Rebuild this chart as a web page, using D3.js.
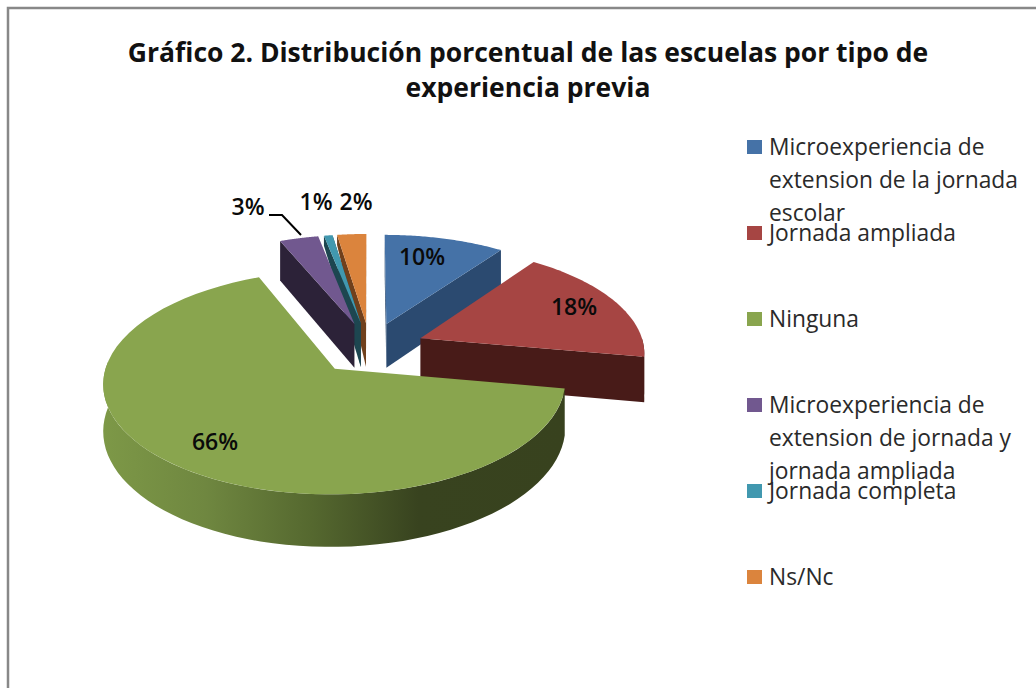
<!DOCTYPE html>
<html><head><meta charset="utf-8">
<script src="https://cdn.jsdelivr.net/npm/d3@7/dist/d3.min.js"></script>
<style>html,body{margin:0;padding:0;background:#fff}svg{display:block}text{font-family:"Open Sans",sans-serif}</style>
</head><body><svg id="c" width="1036" height="688"></svg>
<script>
const titleLines = ["Gráfico 2. Distribución porcentual de las escuelas por tipo de","experiencia previa"];
const categories = ["Microexperiencia de extension de la jornada escolar","Jornada ampliada","Ninguna","Microexperiencia de extension de jornada y jornada ampliada","Jornada completa","Ns/Nc"];
const legendLines = [["Microexperiencia de","extension de la jornada","escolar"],["Jornada ampliada"],["Ninguna"],["Microexperiencia de","extension de jornada y","jornada ampliada"],["Jornada completa"],["Ns/Nc"]];
const values = [9.9,17.9,65.9,3.2,0.7,2.4];
const topColors = ["#4572a7","#a64543","#89a54e","#71588f","#4198af","#db843d"];
const sideColors = ["#2b4a70","#481b18","#38421e","#2c2238","#1d4650","#70401c"];
const labelAnchors = [[422,257],[574,307],[215,442],[248,207],[316,202],[356,202]];

const W=1036,H=688, cx=370, cy=348, R=224, explode=55, tilt=0.47, persp=0.12, depth=45, sliverDepth=10;
const svg=d3.select("#c");
const defs=svg.append("defs");
const grad=defs.append("linearGradient").attr("id","rim").attr("gradientUnits","userSpaceOnUse")
  .attr("x1",104).attr("x2",566).attr("y1",0).attr("y2",0);
[[0,"#7d9847"],[0.22,"#6f8740"],[0.45,"#55682f"],[0.68,"#38431f"],[1,"#38421e"]].forEach(s=>grad.append("stop").attr("offset",s[0]).attr("stop-color",s[1]));

// frame
svg.append("path").attr("d",`M8,688V8H1036`).attr("fill","none").attr("stroke","#888").attr("stroke-width",2.5);

// projection of disc-plane coordinates
function proj(X,Y,z){const p=1/(1+persp*Y/R);return [cx+X*p, cy-Y*tilt*p+(z?depth*p:0)];}
const line=d3.line();
const arcs=d3.pie().sort(null).startAngle(0).endAngle(2*Math.PI)(values);
const slices=arcs.map((a,i)=>{
  const mid=(a.startAngle+a.endAngle)/2;
  return {i,a0:a.startAngle,a1:a.endAngle,ox:explode*Math.sin(mid),oy:explode*Math.cos(mid)};
});
const pt=(s,t,r,z)=>proj(s.ox+r*Math.sin(t),s.oy+r*Math.cos(t),z);
const arcPts=(s,t0,t1,z)=>d3.range(0,61).map(k=>pt(s,t0+(t1-t0)*k/60,R,z));
const order=[5,4,3,0,1,2];
order.forEach(i=>{
  const s=slices[i], g=svg.append("g");
  // radial cut faces
  [s.a0,s.a1].forEach((t,j)=>{
    const n=t+(j?Math.PI/2:-Math.PI/2);
    const thin=i===4||i===5;
    if(Math.cos(n)>0.05 && !thin) return;
    const far=pt(s,t,R,false);
    const farLow=thin?[far[0],far[1]+sliverDepth]:pt(s,t,R,true);
    g.append("path").attr("fill",sideColors[i]).attr("d",line([pt(s,t,0,false),far,farLow,pt(s,t,0,true)])+"Z");
  });
  // outer rim
  const t0=Math.max(s.a0,Math.PI/2), t1=Math.min(s.a1,Math.PI*1.52);
  if(t1>t0){
    const rim=arcPts(s,t0,t1,false).concat(arcPts(s,t1,t0,true));
    g.append("path").attr("fill",i===2?"url(#rim)":sideColors[i]).attr("d",line(rim)+"Z");
  }
  // top
  g.append("path").attr("fill",topColors[i]).attr("d",line([pt(s,s.a0,0,false),...arcPts(s,s.a0,s.a1,false)])+"Z");
});

// title
svg.selectAll("text.t").data(titleLines).join("text").attr("class","t")
  .attr("x",528).attr("y",(d,i)=>62+i*35).attr("text-anchor","middle")
  .attr("font-size",26.5).attr("font-weight",700).attr("fill","#111").text(d=>d);

// data labels
const pct=d3.format(".0f");
svg.selectAll("text.l").data(values).join("text").attr("class","l")
  .attr("x",(d,i)=>labelAnchors[i][0]).attr("y",(d,i)=>labelAnchors[i][1]+8)
  .attr("text-anchor","middle").attr("font-size",23).attr("font-weight",600).attr("fill","#0a0a0a").text(d=>pct(d)+"%");
svg.append("path").attr("d",line([[269,215],[282,215],[301,235]])).attr("fill","none").attr("stroke","#000").attr("stroke-width",2);

// legend
const legendY=d3.scalePoint().domain(d3.range(categories.length)).range([147,577]);
const lg=svg.selectAll("g.lg").data(categories).join("g").attr("class","lg").attr("transform",(d,i)=>`translate(747,${legendY(i)})`);
lg.append("rect").attr("x",0).attr("y",-7).attr("width",15).attr("height",14).attr("fill",(d,i)=>topColors[i]);
lg.each(function(d,i){
  d3.select(this).selectAll("text").data(legendLines[i]).join("text")
    .attr("x",22).attr("y",(l,k)=>8+k*33).attr("font-size",22.8).attr("fill","#2a2a2a").text(l=>l);
});
</script></body></html>
